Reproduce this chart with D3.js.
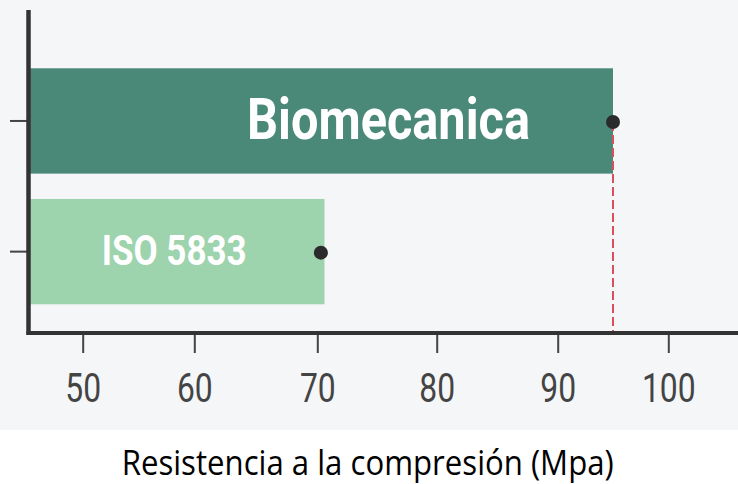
<!DOCTYPE html>
<html>
<head>
<meta charset="utf-8">
<script src="https://cdn.jsdelivr.net/npm/d3@7"></script>
<style>
  html, body { margin: 0; padding: 0; background: #ffffff; }
  svg { display: block; }
</style>
</head>
<body>
<svg id="chart" width="738" height="484"></svg>
<script>
// ---- data ----
const categories = ["Biomecanica", "ISO 5833"];
const barValues = [95.0, 70.6];
const pointValues = [95.0, 70.3];
const xTicks = [50, 60, 70, 80, 90, 100];
const xTickLabels = ["50", "60", "70", "80", "90", "100"];
const axisTitle = "Resistencia a la compresión (Mpa)";
const barColors = ["#4a8878", "#9dd3ad"];

const W = 738, H = 484;
const svg = d3.select("#chart");
const narrow = "'Roboto', 'Liberation Sans', sans-serif";

// scales (piecewise, following the tick spacing of the original artwork)
const x = d3.scaleLinear()
  .domain([45.5, 50, 60, 70, 80, 90, 100, 106])
  .range([30, 82.7, 194.3, 317.3, 436.7, 557.7, 668.3, 738]);
const y = d3.scaleBand().domain(categories).range([68.3, 304.3]).paddingInner(0.194).paddingOuter(0);
const x0 = 30;

// plot background
svg.append("rect").attr("x", 0).attr("y", 0).attr("width", W).attr("height", 430).attr("fill", "#f5f6f8");

// bars
svg.selectAll("rect.bar").data(categories).enter().append("rect")
  .attr("class", "bar")
  .attr("x", x0)
  .attr("y", d => y(d))
  .attr("width", (d, i) => x(barValues[i]) - x0)
  .attr("height", y.bandwidth())
  .attr("fill", (d, i) => barColors[i]);

// bar labels (condensed look via textLength)
const labelSizes = [57, 43];
const labelStarts = [247 - 30, 101.7 - 30];
const labelLengths = [283, 145];
svg.selectAll("text.blabel").data(categories).enter().append("text")
  .attr("class", "blabel")
  .attr("x", (d, i) => x0 + labelStarts[i])
  .attr("y", (d, i) => y(d) + y.bandwidth() / 2 + labelSizes[i] * 0.31)
  .attr("text-anchor", "start")
  .attr("font-family", narrow)
  .attr("font-weight", "bold")
  .attr("font-size", (d, i) => labelSizes[i])
  .attr("textLength", (d, i) => labelLengths[i])
  .attr("lengthAdjust", "spacingAndGlyphs")
  .attr("fill", "#ffffff")
  .text(d => d);

// red dashed reference line from the first point to the axis
svg.append("line")
  .attr("x1", x(pointValues[0])).attr("x2", x(pointValues[0]))
  .attr("y1", y(categories[0]) + y.bandwidth() / 2 + 1).attr("y2", 333)
  .attr("stroke", "#d9505c").attr("stroke-width", 2)
  .attr("stroke-dasharray", "9,4");

// points
svg.selectAll("circle.pt").data(categories).enter().append("circle")
  .attr("class", "pt")
  .attr("cx", (d, i) => x(pointValues[i]))
  .attr("cy", d => y(d) + y.bandwidth() / 2 + 1)
  .attr("r", 7)
  .attr("fill", "#2b2b2b");

// y ticks
svg.selectAll("line.ytick").data(categories).enter().append("line")
  .attr("class", "ytick")
  .attr("x1", 10).attr("x2", 27)
  .attr("y1", d => y(d) + y.bandwidth() / 2)
  .attr("y2", d => y(d) + y.bandwidth() / 2)
  .attr("stroke", "#444").attr("stroke-width", 2);

// x axis ticks and labels via d3 axis
const xAxis = d3.axisBottom(x).tickValues(xTicks).tickFormat((d, i) => xTickLabels[i]).tickSize(19).tickPadding(0);
const gx = svg.append("g").attr("transform", "translate(0,334)").call(xAxis);
gx.select(".domain").remove();
gx.selectAll(".tick line").attr("stroke", "#444").attr("stroke-width", 2);
gx.selectAll(".tick text")
  .attr("y", 67.7).attr("dy", null)
  .attr("font-family", narrow)
  .attr("font-size", 41)
  .attr("textLength", (d, i) => xTickLabels[i].length * 17.9)
  .attr("lengthAdjust", "spacingAndGlyphs")
  .attr("fill", "#444");

// axis lines
svg.append("line").attr("x1", 28.5).attr("x2", 28.5).attr("y1", 10).attr("y2", 335)
  .attr("stroke", "#333").attr("stroke-width", 4.5);
svg.append("line").attr("x1", 26.5).attr("x2", W).attr("y1", 333).attr("y2", 333)
  .attr("stroke", "#333").attr("stroke-width", 4);

// axis title
svg.append("text")
  .attr("x", 121.7).attr("y", 475)
  .attr("font-family", "'Open Sans', 'Noto Sans', sans-serif")
  .attr("font-size", 34)
  .attr("fill", "#000")
  .attr("textLength", 492)
  .attr("lengthAdjust", "spacingAndGlyphs")
  .text(axisTitle);
</script>
</body>
</html>
